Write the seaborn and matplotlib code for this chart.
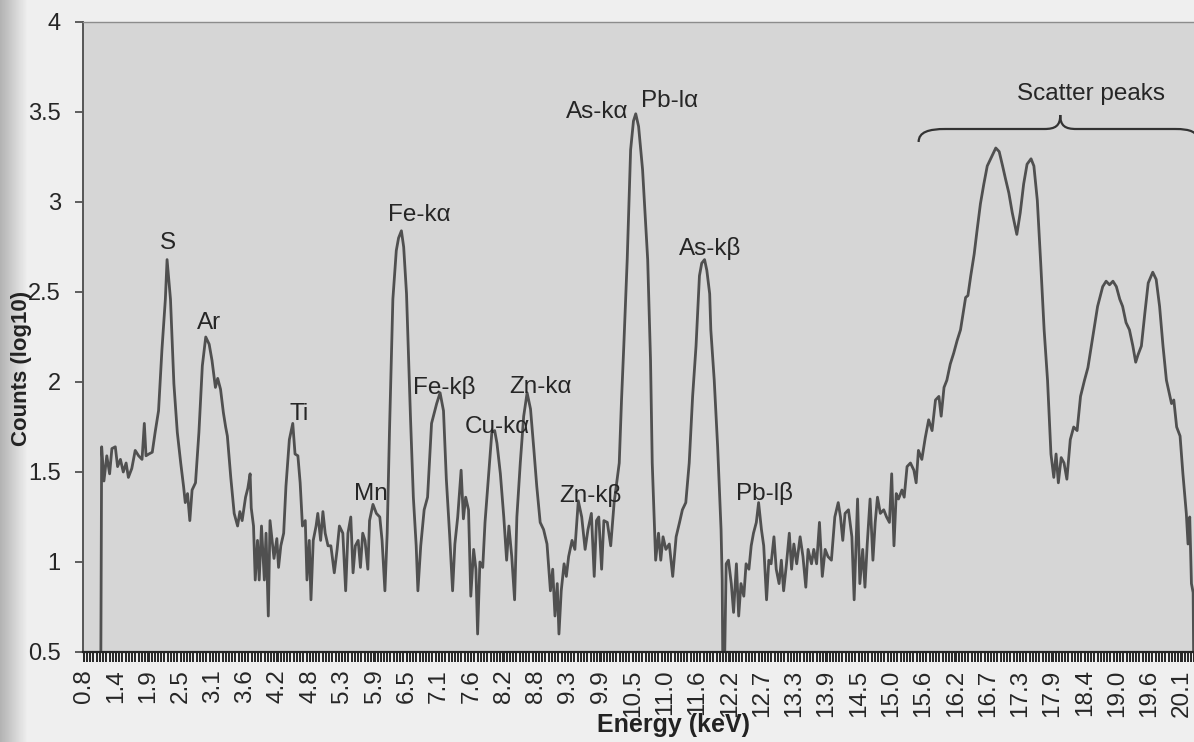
import numpy as np
import pandas as pd
import matplotlib
matplotlib.use("Agg")
import matplotlib.pyplot as plt
import seaborn as sns
from matplotlib.path import Path
from matplotlib.patches import PathPatch
from matplotlib.ticker import FixedLocator, FixedFormatter, MultipleLocator

# ---------------- data ----------------
energy_kev = [
    0.80, 1.09, 1.11, 1.15, 1.20, 1.25, 1.29, 1.35, 1.39, 1.44,
    1.49, 1.54, 1.58, 1.64, 1.70, 1.76, 1.82, 1.86, 1.89, 1.94,
    2.00, 2.05, 2.11, 2.17, 2.23, 2.26, 2.32, 2.38, 2.44, 2.50,
    2.55, 2.58, 2.62, 2.66, 2.70, 2.76, 2.82, 2.88, 2.94, 3.00,
    3.05, 3.11, 3.15, 3.20, 3.25, 3.29, 3.32, 3.38, 3.44, 3.50,
    3.54, 3.58, 3.64, 3.68, 3.72, 3.74, 3.78, 3.81, 3.85, 3.88,
    3.92, 3.97, 4.00, 4.04, 4.07, 4.11, 4.14, 4.19, 4.22, 4.26,
    4.31, 4.35, 4.41, 4.47, 4.51, 4.56, 4.60, 4.64, 4.69, 4.72,
    4.76, 4.79, 4.83, 4.88, 4.91, 4.96, 5.00, 5.04, 5.09, 5.14,
    5.20, 5.25, 5.29, 5.35, 5.40, 5.44, 5.49, 5.53, 5.57, 5.62,
    5.66, 5.70, 5.74, 5.79, 5.82, 5.88, 5.94, 6.00, 6.04, 6.09,
    6.13, 6.17, 6.23, 6.29, 6.33, 6.38, 6.42, 6.47, 6.50, 6.54,
    6.59, 6.64, 6.67, 6.72, 6.78, 6.84, 6.91, 7.00, 7.06, 7.12,
    7.17, 7.23, 7.28, 7.32, 7.37, 7.43, 7.47, 7.51, 7.56, 7.60,
    7.65, 7.69, 7.72, 7.76, 7.81, 7.85, 7.91, 7.97, 8.02, 8.06,
    8.12, 8.18, 8.23, 8.27, 8.32, 8.37, 8.41, 8.47, 8.53, 8.59,
    8.65, 8.71, 8.76, 8.82, 8.88, 8.94, 9.00, 9.04, 9.08, 9.12,
    9.15, 9.19, 9.24, 9.28, 9.32, 9.38, 9.43, 9.49, 9.55, 9.61,
    9.66, 9.72, 9.77, 9.81, 9.85, 9.90, 9.94, 10.00, 10.06, 10.12,
    10.21, 10.25, 10.29, 10.35, 10.41, 10.46, 10.50, 10.55, 10.62, 10.71,
    10.76, 10.79, 10.85, 10.90, 10.94, 10.98, 11.03, 11.09, 11.15, 11.21,
    11.27, 11.32, 11.38, 11.44, 11.50, 11.56, 11.62, 11.66, 11.71, 11.75,
    11.80, 11.82, 11.85, 11.88, 11.94, 12.00, 12.02, 12.04, 12.09, 12.13,
    12.18, 12.22, 12.27, 12.31, 12.35, 12.40, 12.44, 12.49, 12.53, 12.57,
    12.62, 12.66, 12.71, 12.75, 12.80, 12.84, 12.88, 12.93, 12.97, 13.02,
    13.06, 13.10, 13.15, 13.20, 13.24, 13.28, 13.33, 13.39, 13.44, 13.49,
    13.53, 13.59, 13.63, 13.68, 13.73, 13.78, 13.83, 13.88, 13.94, 14.00,
    14.06, 14.10, 14.14, 14.18, 14.24, 14.30, 14.34, 14.40, 14.44, 14.49,
    14.53, 14.57, 14.62, 14.67, 14.71, 14.75, 14.80, 14.86, 14.91, 14.96,
    15.00, 15.04, 15.08, 15.12, 15.18, 15.22, 15.27, 15.33, 15.39, 15.43,
    15.47, 15.53, 15.59, 15.65, 15.71, 15.77, 15.83, 15.87, 15.92, 15.97,
    16.03, 16.09, 16.15, 16.21, 16.30, 16.34, 16.39, 16.45, 16.50, 16.56,
    16.62, 16.68, 16.74, 16.83, 16.89, 16.95, 17.00, 17.06, 17.12, 17.20,
    17.26, 17.32, 17.38, 17.45, 17.50, 17.56, 17.62, 17.68, 17.74, 17.80,
    17.85, 17.89, 17.93, 17.98, 18.03, 18.08, 18.14, 18.20, 18.26, 18.32,
    18.39, 18.45, 18.51, 18.56, 18.62, 18.71, 18.77, 18.83, 18.89, 18.95,
    19.01, 19.06, 19.12, 19.18, 19.24, 19.29, 19.33, 19.39, 19.45, 19.51,
    19.59, 19.65, 19.71, 19.77, 19.83, 19.92, 19.96, 20.01, 20.07, 20.12,
    20.18, 20.21, 20.24, 20.27, 20.30, 20.32,
]

counts_log10 = [
    0.00, 0.00, 1.64, 1.45, 1.59, 1.49, 1.63, 1.64, 1.53, 1.57,
    1.50, 1.55, 1.47, 1.52, 1.62, 1.59, 1.57, 1.77, 1.59, 1.60,
    1.61, 1.72, 1.84, 2.18, 2.46, 2.68, 2.46, 1.99, 1.72, 1.55,
    1.42, 1.33, 1.38, 1.23, 1.40, 1.44, 1.72, 2.09, 2.25, 2.21,
    2.12, 1.97, 2.02, 1.96, 1.83, 1.75, 1.70, 1.47, 1.27, 1.20,
    1.28, 1.23, 1.36, 1.41, 1.49, 1.30, 1.20, 0.90, 1.12, 0.90,
    1.20, 0.90, 1.16, 0.70, 1.23, 1.11, 1.02, 1.13, 0.97, 1.09,
    1.16, 1.42, 1.68, 1.77, 1.60, 1.59, 1.44, 1.20, 1.23, 0.90,
    1.12, 0.79, 1.12, 1.20, 1.27, 1.12, 1.28, 1.16, 1.09, 1.09,
    0.94, 1.07, 1.20, 1.16, 0.84, 1.16, 1.25, 0.94, 1.09, 1.12,
    0.97, 1.16, 1.12, 0.96, 1.23, 1.32, 1.27, 1.25, 1.12, 0.84,
    1.16, 1.72, 2.46, 2.73, 2.80, 2.84, 2.75, 2.49, 2.20, 1.80,
    1.36, 1.09, 0.84, 1.09, 1.29, 1.36, 1.77, 1.88, 1.94, 1.84,
    1.46, 1.14, 0.84, 1.10, 1.25, 1.51, 1.24, 1.36, 1.29, 0.81,
    1.07, 0.96, 0.60, 1.00, 0.97, 1.22, 1.47, 1.72, 1.73, 1.66,
    1.49, 1.25, 1.01, 1.20, 1.03, 0.79, 1.25, 1.55, 1.81, 1.94,
    1.85, 1.62, 1.42, 1.22, 1.18, 1.10, 0.84, 0.96, 0.70, 0.88,
    0.60, 0.84, 0.99, 0.92, 1.03, 1.12, 1.07, 1.34, 1.25, 1.07,
    1.18, 1.27, 0.92, 1.23, 1.25, 0.96, 1.23, 1.22, 1.09, 1.33,
    1.55, 1.90, 2.20, 2.68, 3.29, 3.45, 3.49, 3.42, 3.18, 2.68,
    2.12, 1.55, 1.01, 1.16, 1.01, 1.14, 1.07, 1.10, 0.92, 1.14,
    1.22, 1.29, 1.33, 1.55, 1.92, 2.20, 2.59, 2.66, 2.68, 2.62,
    2.49, 2.29, 2.15, 2.01, 1.64, 1.18, 0.90, 0.00, 0.99, 1.01,
    0.88, 0.72, 0.99, 0.70, 0.88, 0.81, 0.99, 0.96, 1.09, 1.16,
    1.22, 1.33, 1.18, 1.09, 0.79, 1.01, 0.99, 1.14, 0.96, 0.88,
    1.01, 0.84, 0.99, 1.16, 0.96, 1.10, 0.99, 1.14, 1.03, 0.86,
    1.07, 0.99, 1.07, 0.99, 1.22, 0.92, 1.07, 1.03, 1.01, 1.25,
    1.33, 1.25, 1.12, 1.27, 1.29, 1.14, 0.79, 1.35, 0.88, 1.07,
    0.86, 1.10, 1.35, 1.01, 1.22, 1.36, 1.27, 1.29, 1.25, 1.22,
    1.49, 1.09, 1.38, 1.35, 1.40, 1.36, 1.53, 1.55, 1.51, 1.44,
    1.62, 1.57, 1.69, 1.79, 1.73, 1.90, 1.92, 1.81, 1.97, 2.01,
    2.10, 2.16, 2.23, 2.29, 2.47, 2.48, 2.59, 2.71, 2.84, 2.99,
    3.10, 3.20, 3.24, 3.30, 3.28, 3.20, 3.13, 3.05, 2.94, 2.82,
    2.94, 3.10, 3.21, 3.24, 3.20, 3.01, 2.66, 2.29, 2.01, 1.60,
    1.47, 1.60, 1.44, 1.58, 1.55, 1.46, 1.68, 1.75, 1.73, 1.92,
    2.01, 2.08, 2.20, 2.30, 2.42, 2.53, 2.56, 2.54, 2.56, 2.53,
    2.46, 2.42, 2.33, 2.29, 2.20, 2.11, 2.15, 2.20, 2.38, 2.55,
    2.61, 2.57, 2.42, 2.20, 2.01, 1.88, 1.90, 1.75, 1.70, 1.49,
    1.27, 1.10, 1.25, 0.88, 0.83, 0.00,
]

x_tick_labels = ["0.8", "1.4", "1.9", "2.5", "3.1", "3.6", "4.2", "4.8", "5.3",
                 "5.9", "6.5", "7.1", "7.6", "8.2", "8.8", "9.3", "9.9", "10.5",
                 "11.0", "11.6", "12.2", "12.7", "13.3", "13.9", "14.5", "15.0",
                 "15.6", "16.2", "16.7", "17.3", "17.9", "18.4", "19.0", "19.6",
                 "20.1"]
y_ticks = [0.5, 1.0, 1.5, 2.0, 2.5, 3.0, 3.5, 4.0]
y_tick_labels = ["0.5", "1", "1.5", "2", "2.5", "3", "3.5", "4"]

peak_labels = ["S", "Ar", "Ti", "Mn", "Fe-kα", "Fe-kβ", "Cu-kα", "Zn-kα",
               "Zn-kβ", "As-kα", "Pb-lα", "As-kβ", "Pb-lβ"]
peak_label_energy = [2.27, 2.99, 4.58, 5.85, 6.70, 7.14, 8.06, 8.82,
                     9.70, 9.82, 11.10, 11.80, 12.77]
peak_label_level = [2.77, 2.33, 1.82, 1.38, 2.93, 1.97, 1.75, 1.97,
                    1.37, 3.50, 3.56, 2.74, 1.38]

assert len(energy_kev) == len(counts_log10)

# ---------------- styling ----------------
sns.set_theme(style="white")
plt.rcParams['font.family'] = ['Liberation Sans', 'DejaVu Sans']

W, H = 1194, 742
fig = plt.figure(figsize=(W / 100, H / 100), dpi=100, facecolor='#efefef')

# scanned-page shadow on the left edge
shade = fig.add_axes([0, 0, 28 / W, 1], zorder=-5)
grad = np.linspace(0.70, 0.94, 64)[None, :]
shade.imshow(grad, aspect='auto', cmap='gray', vmin=0, vmax=1, extent=[0, 1, 0, 1])
shade.axis('off')

ax = fig.add_axes([83 / W, 90 / H, (W - 83) / W + 0.005, 630 / H])
ax.set_facecolor('#d6d6d6')

df = pd.DataFrame({'Energy (keV)': energy_kev, 'Counts (log10)': counts_log10})
sns.lineplot(data=df, x='Energy (keV)', y='Counts (log10)', ax=ax, color='#505050',
             linewidth=2.0, sort=False, estimator=None)

ax.set_xlim(0.782, 20.42)
ax.set_ylim(0.5, 4.0)

tick_step = (20.1 - 0.8) / (len(x_tick_labels) - 1)
ax.xaxis.set_major_locator(FixedLocator(np.linspace(0.8, 20.1, len(x_tick_labels))))
ax.xaxis.set_major_formatter(FixedFormatter(x_tick_labels))
ax.xaxis.set_minor_locator(MultipleLocator(tick_step / 10))
ax.yaxis.set_major_locator(FixedLocator(y_ticks))
ax.yaxis.set_major_formatter(FixedFormatter(y_tick_labels))

ax.tick_params(axis='x', which='both', direction='out', length=7.5, width=1.4,
               color='#262626', bottom=True)
ax.tick_params(axis='x', which='major', labelsize=17.5, labelrotation=90, pad=5,
               labelcolor='#262626')
ax.tick_params(axis='y', which='major', direction='out', length=6, width=1.2,
               color='#444444', left=True, labelsize=17, pad=10, labelcolor='#262626')

for side, col, lw in [('bottom', '#262626', 1.6), ('left', '#555555', 1.4),
                      ('top', '#8c8c8c', 1.0)]:
    ax.spines[side].set_color(col)
    ax.spines[side].set_linewidth(lw)
    ax.spines[side].set_visible(True)
ax.spines['right'].set_visible(False)

ax.set_xlabel('Energy (keV)', fontsize=18, fontweight='bold', color='#222222')
ax.set_ylabel('Counts (log10)', fontsize=16, fontweight='bold', color='#222222')
ax.xaxis.set_label_coords((670 - 83) / (W - 83), -(725 - 652) / 630)
ax.yaxis.set_label_coords((22 - 83) / (W - 83), (652 - 368) / 630)
ax.xaxis.label.set_va('center')
ax.yaxis.label.set_va('center')

for lab, ex, ey in zip(peak_labels, peak_label_energy, peak_label_level):
    ax.text(ex, ey, lab, ha='center', va='center', fontsize=17.5, color='#262626')

# "Scatter peaks" bracket (pixel layout converted to data coordinates)
def px_e(x):
    return 0.8 + (x - 84) * 0.017658

def px_v(y):
    return 4 - (y - 22) / 180.0

brace_px = [(915, 142), (915, 132), (925, 129), (942, 129),
            (1040, 129),
            (1051, 129), (1056, 126), (1056, 115),
            (1056, 126), (1061, 129), (1072, 129),
            (1170, 129),
            (1186, 129), (1193, 132), (1193, 141)]
codes = [Path.MOVETO, Path.CURVE4, Path.CURVE4, Path.CURVE4,
         Path.LINETO,
         Path.CURVE4, Path.CURVE4, Path.CURVE4,
         Path.CURVE4, Path.CURVE4, Path.CURVE4,
         Path.LINETO,
         Path.CURVE4, Path.CURVE4, Path.CURVE4]
verts = [(px_e(x), px_v(y)) for x, y in brace_px]
ax.add_patch(PathPatch(Path(verts, codes), facecolor='none', edgecolor='#333333',
                       linewidth=1.6, clip_on=False))
ax.text(px_e(1087), px_v(94), 'Scatter peaks', ha='center', va='center',
        fontsize=17.5, color='#262626')

fig.savefig('out.png', dpi=100, facecolor=fig.get_facecolor())
